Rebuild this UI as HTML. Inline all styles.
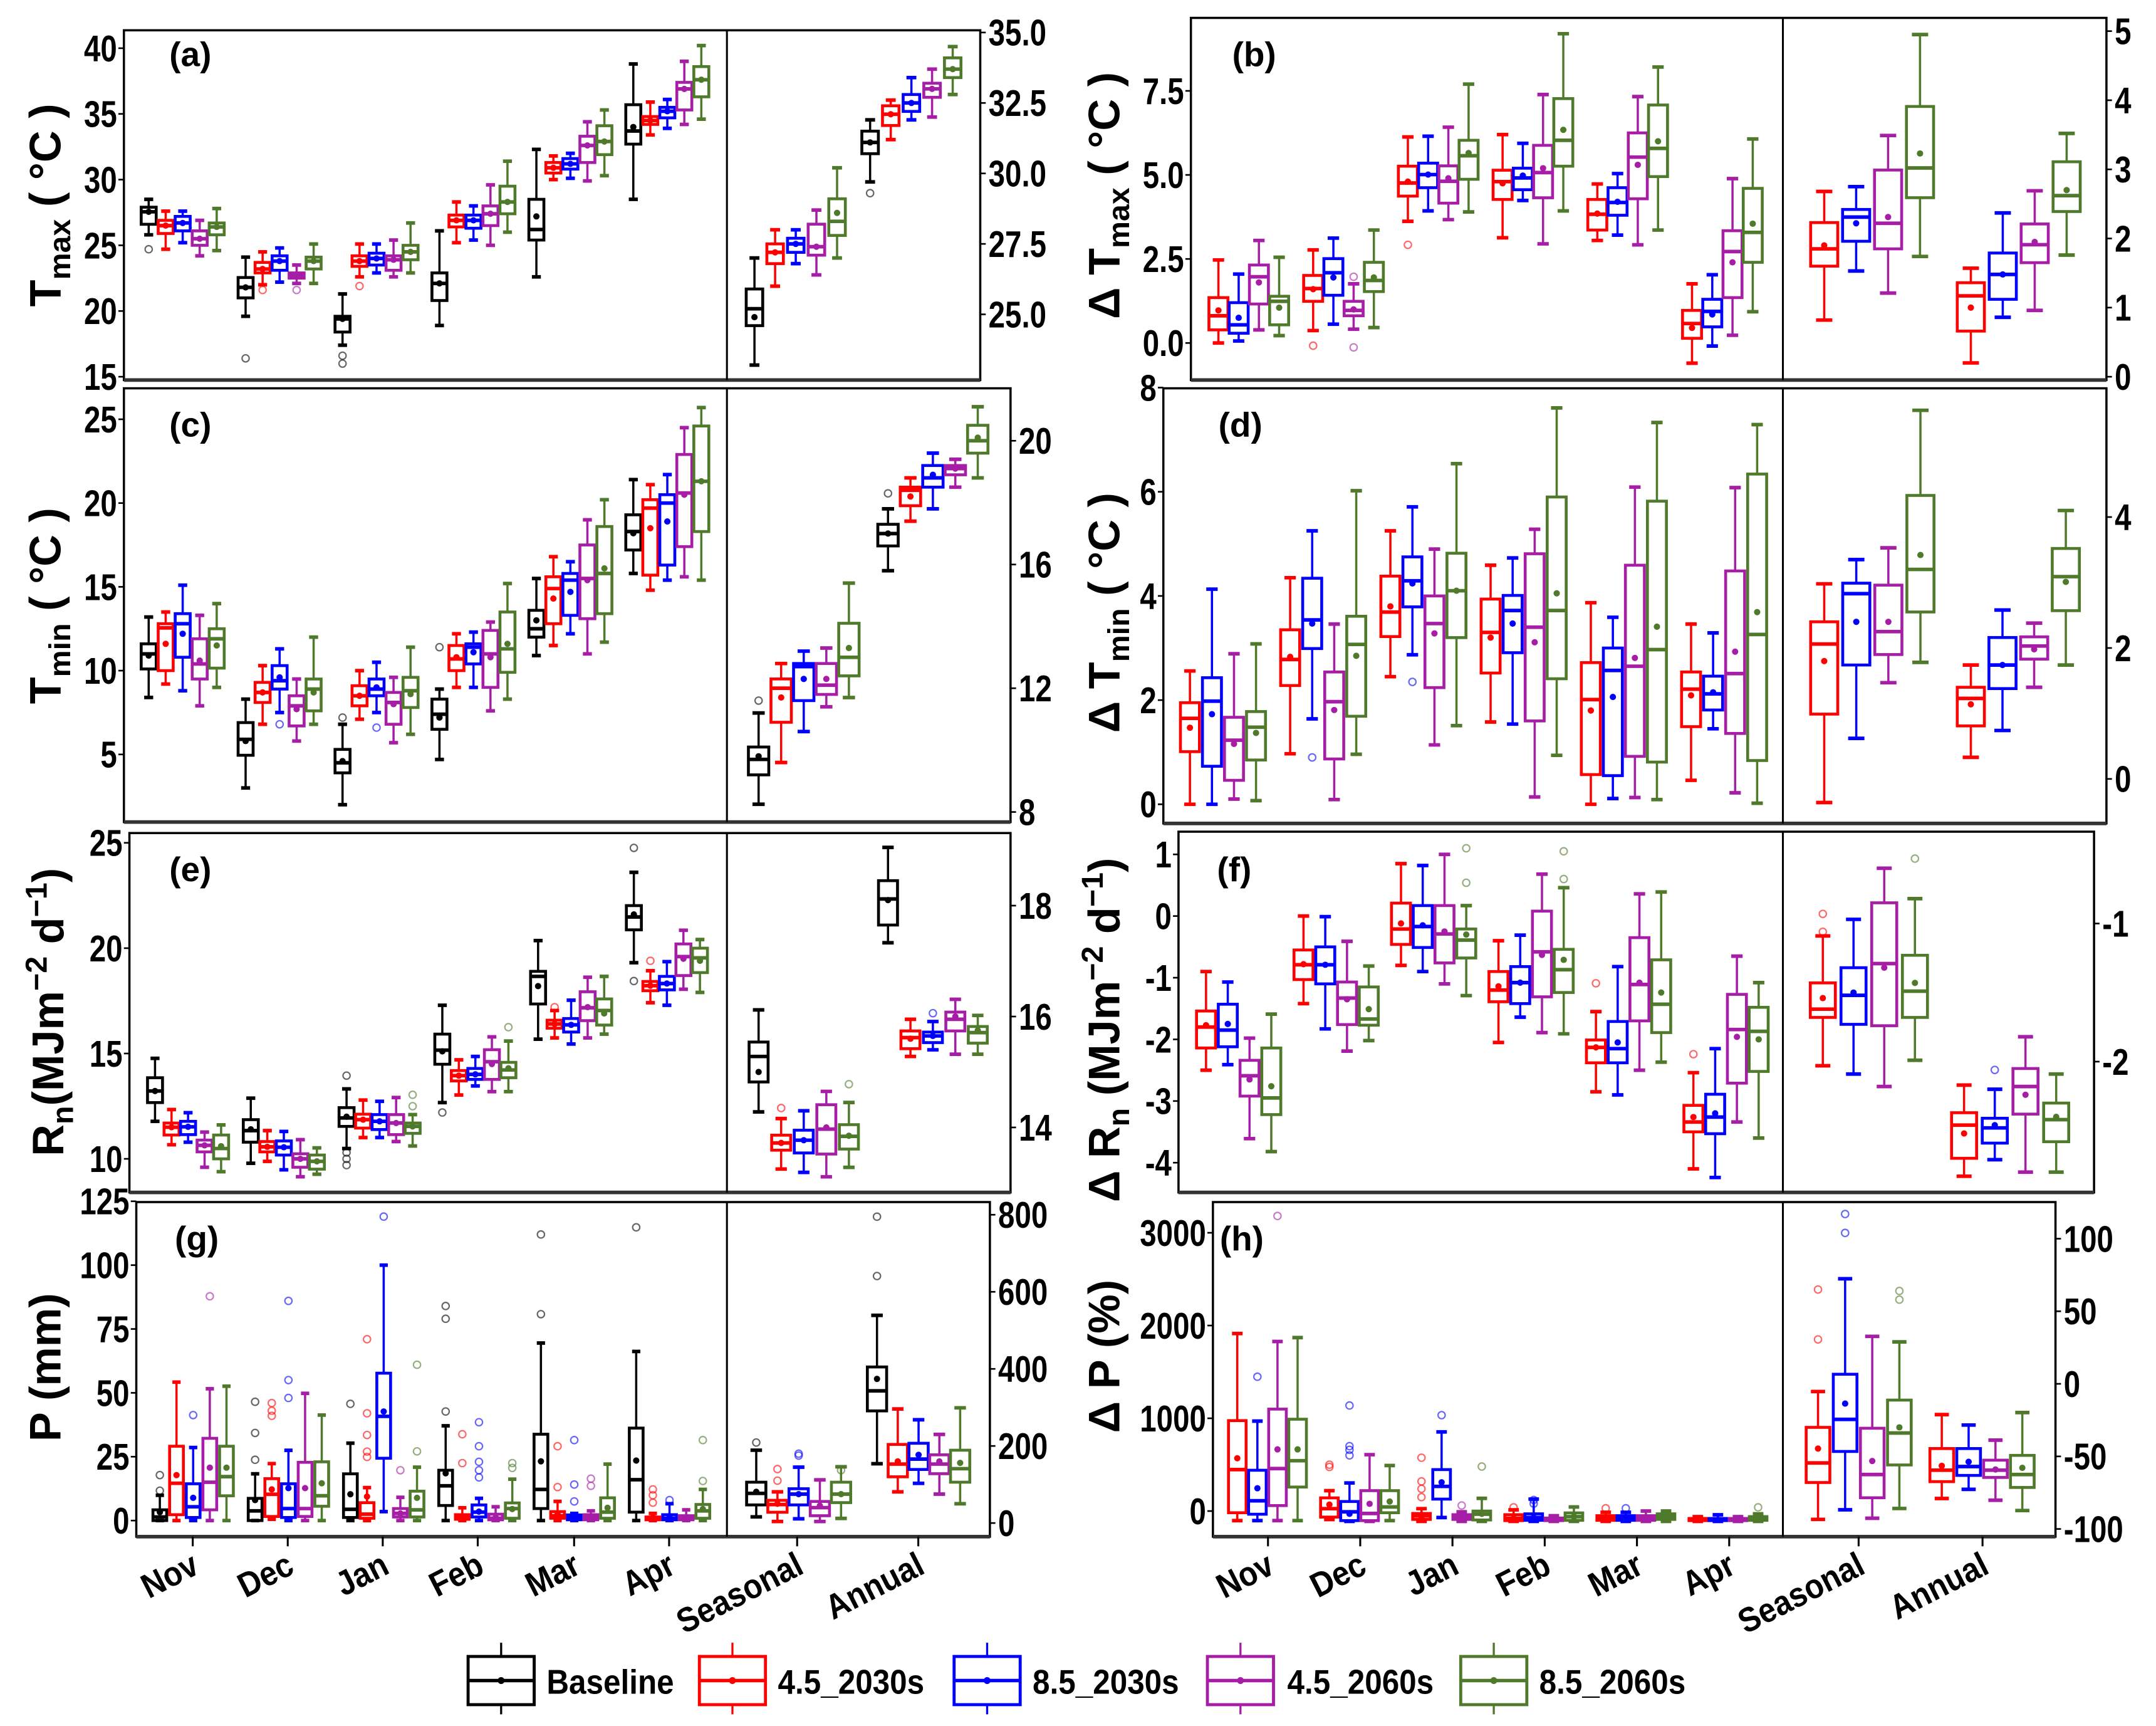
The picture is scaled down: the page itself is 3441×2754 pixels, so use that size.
<!DOCTYPE html>
<html><head><meta charset="utf-8"><title>Climate box plots</title>
<style>
html,body{margin:0;padding:0;background:#fff;}
svg{display:block;font-family:"Liberation Sans",Arial,sans-serif;font-weight:bold;}
</style></head>
<body>
<svg id="chart" xmlns="http://www.w3.org/2000/svg" width="3441" height="2754" viewBox="0 0 1566 1253.5" preserveAspectRatio="none">
<rect x="0" y="0" width="1566" height="1253.5" fill="#fff"/>
<g id="plots"></g>

<!-- axis titles -->
<g font-size="32" fill="#000">
 <text transform="translate(44,149) rotate(-90)" text-anchor="middle">T<tspan font-size="22" dy="7">max</tspan><tspan dy="-7"> ( °C )</tspan></text>
 <text transform="translate(44,440) rotate(-90)" text-anchor="middle">T<tspan font-size="22" dy="7">min</tspan><tspan dy="-7"> ( °C )</tspan></text>
 <text transform="translate(46,735) rotate(-90)" text-anchor="middle">R<tspan font-size="22" dy="7">n</tspan><tspan dy="-7">(MJm</tspan><tspan font-size="22" dy="-12">−2</tspan><tspan dy="12"> d</tspan><tspan font-size="22" dy="-12">−1</tspan><tspan dy="12">)</tspan></text>
 <text transform="translate(44,993) rotate(-90)" text-anchor="middle">P (mm)</text>
 <text transform="translate(813,142) rotate(-90)" text-anchor="middle">Δ T<tspan font-size="22" dy="7">max</tspan><tspan dy="-7"> ( °C )</tspan></text>
 <text transform="translate(813,445) rotate(-90)" text-anchor="middle">Δ T<tspan font-size="22" dy="7">min</tspan><tspan dy="-7"> ( °C )</tspan></text>
 <text transform="translate(813,748) rotate(-90)" text-anchor="middle">Δ R<tspan font-size="22" dy="7">n</tspan><tspan dy="-7"> (MJm</tspan><tspan font-size="22" dy="-12">−2</tspan><tspan dy="12"> d</tspan><tspan font-size="22" dy="-12">−1</tspan><tspan dy="12">)</tspan></text>
 <text transform="translate(813,985) rotate(-90)" text-anchor="middle">Δ P (%)</text>
</g>

<!-- panel labels -->
<g font-size="25" fill="#000">
 <text x="123" y="48">(a)</text>
 <text x="895" y="48">(b)</text>
 <text x="123" y="317">(c)</text>
 <text x="885" y="317">(d)</text>
 <text x="123" y="640">(e)</text>
 <text x="884" y="640">(f)</text>
 <text x="127" y="908">(g)</text>
 <text x="886" y="908">(h)</text>
</g>

<g id="xlabels" font-size="25" fill="#000"></g>

<!-- legend -->
<g id="legend" font-size="25" fill="#000">
 <g stroke="#000">
  <line x1="364" y1="1193" x2="364" y2="1245" stroke-width="1.5"/><rect x="340" y="1203" width="48" height="35" fill="#fff" stroke-width="2.2"/><line x1="340" y1="1220.5" x2="388" y2="1220.5" stroke-width="2.5"/><circle cx="364" cy="1220.5" r="2" fill="#000"/>
  <text transform="translate(397,1230) scale(0.9,1)" stroke="none">Baseline</text></g>
 <g stroke="#ff0000">
  <line x1="532" y1="1193" x2="532" y2="1245" stroke-width="1.5"/><rect x="508" y="1203" width="48" height="35" fill="#fff" stroke-width="2.2"/><line x1="508" y1="1220.5" x2="556" y2="1220.5" stroke-width="2.5"/><circle cx="532" cy="1220.5" r="2" fill="#ff0000"/>
  <text transform="translate(565,1230) scale(0.9,1)" stroke="none" fill="#000">4.5_2030s</text></g>
 <g stroke="#0000ff">
  <line x1="717" y1="1193" x2="717" y2="1245" stroke-width="1.5"/><rect x="693" y="1203" width="48" height="35" fill="#fff" stroke-width="2.2"/><line x1="693" y1="1220.5" x2="741" y2="1220.5" stroke-width="2.5"/><circle cx="717" cy="1220.5" r="2" fill="#0000ff"/>
  <text transform="translate(750,1230) scale(0.9,1)" stroke="none" fill="#000">8.5_2030s</text></g>
 <g stroke="#a61ea6">
  <line x1="901" y1="1193" x2="901" y2="1245" stroke-width="1.5"/><rect x="877" y="1203" width="48" height="35" fill="#fff" stroke-width="2.2"/><line x1="877" y1="1220.5" x2="925" y2="1220.5" stroke-width="2.5"/><circle cx="901" cy="1220.5" r="2" fill="#a61ea6"/>
  <text transform="translate(935,1230) scale(0.9,1)" stroke="none" fill="#000">4.5_2060s</text></g>
 <g stroke="#4f7a2c">
  <line x1="1085" y1="1193" x2="1085" y2="1245" stroke-width="1.5"/><rect x="1061" y="1203" width="48" height="35" fill="#fff" stroke-width="2.2"/><line x1="1061" y1="1220.5" x2="1109" y2="1220.5" stroke-width="2.5"/><circle cx="1085" cy="1220.5" r="2" fill="#4f7a2c"/>
  <text transform="translate(1118,1230) scale(0.9,1)" stroke="none" fill="#000">8.5_2060s</text></g>
</g>
</svg>

<script>
// ---------- categories ----------
const months = ['Nov','Dec','Jan','Feb','Mar','Apr'];
const periods = ['Seasonal','Annual'];
const seriesNames = ['Baseline','4.5_2030s','8.5_2030s','4.5_2060s','8.5_2060s'];

// ---------- data: each box = [upperWhisker, q3, median, q1, lowerWhisker, mean] ----------
// (a) Tmax
const tmaxMonth = [
 [[28.5,27.9,27.55,26.6,25.8],[27.6,26.9,26.5,25.9,24.7],[27.6,27.2,26.7,26.1,25.2],[26.9,26.1,25.5,25,24.2],[27.8,26.7,26.4,25.8,24.6]],
 [[24.1,22.55,21.8,21,19.6],[24.5,23.7,23.2,22.9,22],[24.8,24.2,23.8,23.1,22.2],[23.5,22.9,22.7,22.5,22.1],[25.1,24.1,23.8,23.2,22.1]],
 [[21.3,19.6,19.4,18.4,17.4],[25.1,24.2,23.8,23.4,22.6],[25.1,24.4,24,23.5,22.9],[25.4,24.2,23.9,23.1,22.6],[26.7,25,24.5,23.9,22.9]],
 [[26.1,22.9,22.1,20.8,18.9],[28.3,27.3,26.9,26.4,25.2],[28,27.3,26.9,26.3,25.4],[29.6,28,27.4,26.5,25],[31.4,29.5,28.3,27.4,26]],
 [[32.3,28.5,26.2,25.4,22.6,27.2],[31.8,31.3,30.9,30.5,30],[32,31.6,31.2,30.8,30.1],[34.4,33.3,32.6,31.3,29.9],[35.3,34.1,32.9,31.9,30.3]],
 [[38.8,35.7,33.7,32.7,28.5,34],[35.9,34.8,34.5,34.2,33.4],[36.1,35.5,35.2,34.7,33.9],[39,37.4,36.9,35.3,34.2],[40.2,38.6,37.6,36.3,34.6]]];
const tmaxSeason = [[27,25.9,25.2,24.6,23.2,24.9],[28,27.5,27.2,26.8,26],[28,27.7,27.5,27.2,26.8],[28.7,28.2,27.4,27.1,26.4],[30.2,29.1,28.3,27.8,27,28.6]];
const tmaxAnnual = [[31.9,31.5,31.1,30.7,29.7],[32.6,32.4,32.1,31.7,31.2],[33.4,32.8,32.5,32.2,31.9],[33.7,33.2,33,32.7,32],[34.5,34.1,33.7,33.4,32.8]];
const tmaxOutliers = [[0,0,24.7],[1,0,16.4],[1,1,21.6],[1,3,21.6],[2,0,16.6],[2,0,16],[2,1,21.9]];
const tmaxPeriodOutliers = [[1,0,29.3]];
const tmaxLeftTicks = [15,20,25,30,35,40];
const tmaxRightTicks = [25,27.5,30,32.5,35];

// (b) dTmax
const dtmaxMonth = [
 [[2.47,1.35,0.81,0.39,0,0.97],[2.05,1.2,0.54,0.29,0.06,0.75],[3.05,2.32,1.97,1.16,0.39,1.8],[2.55,1.39,1.24,0.54,0.22,1.05]],
 [[2.77,2.01,1.62,1.24,0.37,1.6],[3.12,2.51,2.09,1.42,0.56,1.95],[1.76,1.24,0.97,0.81,0.41,1.0],[3.36,2.4,1.86,1.53,0.46,1.95]],
 [[6.13,5.26,4.76,4.37,3.62,4.8],[6.15,5.35,5.01,4.62,3.93],[6.42,5.27,4.81,4.16,3.67,4.9],[7.7,6.03,5.57,4.87,3.9,5.65]],
 [[6.2,5.14,4.8,4.27,3.13,4.75],[5.94,5.2,4.91,4.56,4.24,4.98],[7.39,5.88,5.07,4.32,2.95,5.2],[9.2,7.27,6.03,5.26,3.93,6.34]],
 [[4.73,4.27,3.83,3.36,3.05,3.85],[5.04,4.62,4.18,3.8,3.21,4.2],[7.33,6.25,5.53,4.29,2.92,5.3],[8.21,7.08,5.79,4.95,3.36,6.0]],
 [[1.76,0.97,0.58,0.14,-0.6,0.45],[2.03,1.3,0.94,0.48,-0.09,0.85],[4.89,3.34,2.72,1.35,0.23,2.4],[6.07,4.6,3.29,2.4,0.93,3.55]]];
const dtmaxSeason = [[2.68,2.23,1.85,1.6,0.82,1.9],[2.75,2.42,2.31,1.96,1.53,2.22],[3.49,2.99,2.22,1.85,1.21,2.31],[4.95,3.91,3.02,2.59,1.74,3.23]];
const dtmaxAnnual = [[1.57,1.36,1.17,0.66,0.2,1.0],[2.37,1.79,1.48,1.12,0.86,1.48],[2.69,2.21,1.91,1.65,0.96,1.95],[3.52,3.11,2.62,2.39,1.76,2.7]];
const dtmaxOutliers = [[2,0,2.92],[1,0,-0.08],[1,2,1.97],[1,2,-0.13]];
const dtmaxLeftTicks = [0,2.5,5,7.5];
const dtmaxRightTicks = [0,1,2,3,4,5];

// (c) Tmin
const tminMonth = [
 [[13.2,11.6,11,10.1,8.4,10.9],[13.5,12.8,12.55,10,9.2,11.6],[15.1,13.4,12.8,10.8,8.8,12.2],[13.3,11.9,10.4,9.5,7.9,10.6],[14,12.5,11.9,10.15,9,11.5]],
 [[8.3,6.9,5.9,4.95,3,5.8],[10.3,9.3,8.7,8.1,6.8],[11.3,10.3,9.4,8.9,7.5,9.6],[9.5,8.5,7.9,6.7,5.8,7.7],[12,9.5,8.9,7.6,6.8,8.7]],
 [[6.8,5.3,4.5,3.9,2,4.6],[10,9.1,8.5,7.9,7.1],[10.5,9.5,8.9,8.5,7.5,9],[9.6,8.7,8.1,6.8,5.7,8],[11.4,9.6,8.8,7.8,6.2,8.6]],
 [[8.9,8.3,7.4,6.5,4.7,7.2],[12.2,11.5,10.7,10,9,10.8],[12.3,11.6,11.4,10.4,9,11.1],[12.9,12.4,11,9,7.6,10.8],[15.2,13.5,11.3,9.9,8.3,11.6]],
 [[15.5,13.6,12.5,12,10.9,13],[16.8,15.6,14.9,12.8,11.5,14.3],[16.5,15.8,15.4,13.3,12.2,14.7],[19,17.5,15.5,13.1,11,15.4],[20.2,18.6,15.8,13.4,11.7,16.1]],
 [[21.4,19.3,18.3,17.2,15.8,18.2],[21.1,20.2,19.7,15.7,14.8,18.5],[21.7,20.5,20,16.3,15.4,18.9],[24.5,22.9,20.6,17.4,15.6,20.5],[25.7,24.6,21.3,18.3,15.4,21.3]]];
const tminSeason = [[11.2,10.1,9.7,9.2,8.25,9.8],[12.8,12.3,12,10.9,9.6,11.7],[13.2,12.8,12.7,11.6,10.6,12.3],[13.3,12.8,12.1,11.8,11.4,12.3],[15.4,14.1,13,12.4,11.7,13.3]];
const tminAnnual = [[17.8,17.3,17,16.6,15.8,17],[18.8,18.5,18.4,17.9,17.4,18.2],[19.6,19.2,18.8,18.5,17.8,18.9],[19.4,19.2,19.1,18.9,18.5],[21.1,20.5,20,19.6,18.8,20.1]];
const tminOutliers = [[1,2,6.8],[2,0,7.2],[2,2,6.6],[3,0,11.4]];
const tminPeriodOutliers = [[0,0,11.6],[1,0,18.3]];
const tminLeftTicks = [5,10,15,20,25];
const tminRightTicks = [8,12,16,20];

// (d) dTmin
const dtminMonth = [
 [[2.56,1.95,1.65,1.01,0,1.47],[4.13,2.43,1.98,0.73,0,1.73],[2.89,1.67,1.23,0.46,0.1,1.16],[3.08,1.78,1.48,0.85,0.07,1.37]],
 [[4.35,3.35,2.78,2.28,0.97,2.83],[5.25,4.34,3.54,2.99,1.64,3.47],[3.46,2.54,1.97,0.87,0.09,1.81],[6.02,3.61,3.07,1.69,0.96,2.85]],
 [[5.25,4.38,3.69,3.22,2.45,3.8],[5.71,4.75,4.29,3.79,2.87,4.24],[4.9,4,3.47,2.24,1.14,3.28],[6.54,4.82,4.1,3.2,1.51,4.1]],
 [[4.59,3.94,3.3,2.52,1.58,3.2],[4.73,4.01,3.72,2.91,1.54,3.47],[5.28,4.81,3.4,1.6,0.14,3.11],[7.61,5.9,3.72,2.41,0.94,4.05]],
 [[3.87,2.72,2.01,0.57,0,1.8],[3.59,3,2.57,0.55,0.11,2.06],[6.09,4.59,2.65,0.92,0.13,2.81],[7.33,5.82,2.97,0.81,0.09,3.41]],
 [[3.46,2.54,2.21,1.49,0.46,2.09],[3.29,2.46,2.12,1.81,1.45,2.15],[6.08,4.48,2.51,1.36,0.22,2.93],[7.29,6.34,3.26,0.84,0.02,3.69]]];
const dtminSeason = [[2.98,2.4,2.06,0.99,-0.36,1.8],[3.35,2.99,2.83,1.74,0.62,2.4],[3.53,2.96,2.25,1.9,1.47,2.4],[5.63,4.33,3.2,2.55,1.78,3.42]];
const dtminAnnual = [[1.74,1.4,1.23,0.81,0.33,1.14],[2.58,2.16,1.74,1.38,0.74,1.74],[2.38,2.17,2.03,1.83,1.4,1.98],[4.1,3.52,3.09,2.57,1.74,3.01]];
const dtminOutliers = [[1,1,0.9],[2,1,2.35]];
const dtminLeftTicks = [0,2,4,6,8];
const dtminRightTicks = [0,2,4];

// (e) Rn
const rnMonth = [
 [[14.77,13.85,13.22,12.67,11.78],[12.34,11.7,11.5,11.13,10.67],[12.19,11.78,11.52,11.15,10.79],[11.27,10.89,10.64,10.33,9.6],[11.61,11.13,10.49,10,9.39,10.6]],
 [[12.88,11.86,11.34,10.79,9.79,11.4],[11.34,10.82,10.57,10.33,9.88],[11.3,10.85,10.55,10.18,9.48],[10.91,10.24,10,9.6,9.15],[10.52,10.18,9.88,9.51,9.27]],
 [[13.32,12.43,11.94,11.54,10.49,12],[12.79,12.12,11.86,11.46,11.01],[12.73,12.1,11.78,11.39,11.01],[12.91,12.1,11.7,11.15,10.82],[12.1,11.7,11.54,11.21,10.61]],
 [[17.29,15.92,15.16,14.49,12.67,15.1],[14.7,14.19,13.95,13.7,13.03],[14.86,14.29,14.01,13.77,13.46],[15.79,15.18,14.61,13.77,13.19,14.5],[15.59,14.58,14.22,13.85,13.19,14.3]],
 [[20.36,18.9,18.66,17.35,15.68,18.2],[17.04,16.58,16.4,16.2,15.74],[17.53,16.66,16.36,16.02,15.45],[18.62,17.93,17.17,16.56,15.74,17.2],[18.66,17.59,17.04,16.35,15.92,16.9]],
 [[23.6,22.02,21.48,20.87,19.31,21.6],[18.93,18.42,18.22,17.98,17.41],[19.36,18.66,18.32,18.02,17.29],[20.85,20.2,19.6,18.7,18.05,19.5],[20.41,20,19.54,18.84,17.9,19.4]]];
const rnSeason = [[16.12,15.54,15.28,14.82,14.28,15.0],[14.16,13.86,13.72,13.59,13.25],[14.3,13.95,13.77,13.54,13.19],[14.65,14.41,13.97,13.52,13.11,14.0],[14.45,14.05,13.84,13.61,13.28,13.85]];
const rnAnnual = [[19.05,18.45,18.12,17.65,17.33,18.1],[15.95,15.74,15.62,15.42,15.28,15.6],[15.91,15.72,15.65,15.53,15.4],[16.31,16.08,15.95,15.74,15.32,16.0],[16.02,15.82,15.71,15.52,15.32,15.75]];
const rnOutliers = [[2,0,13.95],[2,0,10.3],[2,0,10],[2,0,9.7],[2,4,13.04],[2,4,12.5],[3,0,12.2],[3,4,16.25],[4,1,17.2],[5,0,24.76],[5,0,18.44],[5,1,19.4]];
const rnPeriodOutliers = [[0,1,14.35],[0,4,14.78],[1,2,16.06]];
const rnLeftTicks = [10,15,20,25];
const rnRightTicks = [14,16,18];

// (f) dRn
const drnMonth = [
 [[-0.9,-1.54,-1.8,-2.14,-2.5,-1.77],[-1.07,-1.43,-1.85,-2.12,-2.41,-1.75],[-1.98,-2.34,-2.59,-2.92,-3.61,-2.65],[-1.59,-2.14,-2.95,-3.22,-3.82,-2.76]],
 [[0,-0.55,-0.79,-1.03,-1.42,-0.78],[-0.01,-0.5,-0.79,-1.1,-1.83,-0.79],[-0.41,-1.07,-1.33,-1.76,-2.19,-1.35],[-0.81,-1.15,-1.67,-1.77,-2.02,-1.51]],
 [[0.85,0.21,-0.21,-0.46,-0.8,-0.12],[0.82,0.17,-0.17,-0.51,-0.9,-0.15],[1,0.17,-0.29,-0.76,-1.1,-0.25],[0.17,-0.21,-0.39,-0.68,-1.29,-0.3]],
 [[-0.4,-0.9,-1.2,-1.39,-2.05,-1.14],[-0.31,-0.82,-1.08,-1.42,-1.64,-1.08],[0.68,0.08,-0.58,-1.31,-1.89,-0.63],[0.46,-0.54,-0.87,-1.24,-1.91,-0.71]],
 [[-1.55,-2.01,-2.13,-2.38,-2.85,-2.13],[-0.82,-1.71,-2.15,-2.38,-2.9,-2.05],[0.36,-0.35,-1.11,-1.7,-2.5,-1.08],[0.39,-0.71,-1.43,-1.89,-2.37,-1.24]],
 [[-2.54,-3.07,-3.34,-3.5,-4.1,-3.26],[-2.15,-2.89,-3.26,-3.53,-4.24,-3.2],[-0.65,-1.27,-1.84,-2.71,-3.34,-1.96],[-1.08,-1.48,-1.87,-2.52,-3.6,-2.0]]];
const drnSeason = [[-1.09,-1.43,-1.62,-1.68,-2.03,-1.54],[-0.97,-1.32,-1.52,-1.73,-2.09,-1.5],[-0.6,-0.85,-1.29,-1.74,-2.18,-1.32],[-0.82,-1.23,-1.49,-1.68,-1.99,-1.43]];
const drnAnnual = [[-2.17,-2.37,-2.46,-2.7,-2.83,-2.52],[-2.2,-2.41,-2.48,-2.59,-2.71,-2.46],[-1.82,-2.05,-2.18,-2.38,-2.8,-2.24],[-2.09,-2.3,-2.42,-2.58,-2.8,-2.4]];
const drnOutliers = [[2,3,0.54],[2,3,1.1],[3,3,0.6],[3,3,1.05],[4,0,-1.09],[5,0,-2.24]];
const drnPeriodOutliers = [[0,0,-0.93],[0,0,-1.06],[0,3,-0.53],[1,1,-2.06]];
const drnLeftTicks = [-4,-3,-2,-1,0,1];
const drnRightTicks = [-2,-1];

// (g) P
const pMonth = [
 [[9.9,4.2,1.4,0,0,3.3],[54.2,29.1,14.6,2.3,0,17.8],[28.6,14.4,5.4,1.2,0,8.9],[51.6,32.2,15,4.2,0,20.7],[52.6,29.1,17.2,9.7,0,20.7]],
 [[18.3,8.7,3.8,0,0,8],[22.3,16.4,10.3,1.6,0.5,12.2],[27.5,14.4,4.7,1.2,0,12.7],[49.8,22.8,4.7,1.6,0,12.7],[41.3,23,9.7,5.6,0,14.6]],
 [[30.3,18.3,4.4,1.2,0,10.3],[12.9,7,2.5,0.9,0,9.4],[100,57.7,40.8,24.4,3.5,42.7],[9.1,4.7,2.8,1.4,0,2.8],[20.9,11.5,4.2,1.4,0,8.9]],
 [[37.1,19.7,13.6,5.9,0,18.5],[5,2.3,1.2,0.5,0,1.5],[8.7,6.1,3.3,1.4,0,3.5],[5.4,2.5,0.9,0.3,0,1.2],[16.2,6.9,4.7,0.9,0,4.5]],
 [[69.5,33.8,12.2,4.7,0,23.2],[7.5,3.5,1.9,0.9,0,2.5],[2.8,2.2,1.2,0.3,0,1.5],[3.8,2.3,1.2,0.3,0,1.5],[22.1,8.9,3.3,0.9,0,5]],
 [[66.2,36.2,16,3.3,0,23.5],[2.8,1.4,0.9,0.3,0,1.2],[6.6,2.3,0.9,0.3,0,1.2],[4.2,1.9,0.9,0.3,0,1.0],[12.2,6.3,3.8,0.9,0,4.5]]];
const pSeason = [[189,106,77,47,16,81],[81,59,48,28,4,50],[145,89,75,47,11,75],[112,56,40,19,4,45],[146,106,75,53,12,75]];
const pAnnual = [[539,405,343,291,154,374],[296,204,153,120,81,160],[268,207,166,139,103,177],[230,177,153,128,75,160],[299,189,141,106,50,156]];
const pOutliers = [[0,0,17.8],[0,0,11.7],[0,2,41.3],[0,3,87.8],[1,0,46.5],[1,0,34.3],[1,0,23.8],[1,1,46],[1,1,43],[1,1,41],[1,2,86],[1,2,55],[1,2,48],[2,0,45.7],[2,1,71],[2,1,42],[2,1,33.5],[2,1,27],[2,1,24.9],[2,2,119],[2,3,19.7],[2,4,61],[2,4,27.1],[3,0,84],[3,0,79],[3,0,42.7],[3,1,33.8],[3,1,22.5],[3,2,38.5],[3,2,29.1],[3,2,23],[3,2,19.7],[3,2,16.9],[3,4,22.5],[3,4,20.6],[4,0,112],[4,0,80.8],[4,1,29.1],[4,1,13.1],[4,2,31.5],[4,2,14.1],[4,2,7.5],[4,3,16.4],[4,3,13.6],[5,0,114.8],[5,1,12.2],[5,1,9.9],[5,1,7],[5,2,8],[5,4,31.5],[5,4,15.5]];
const pPeriodOutliers = [[0,0,209],[0,1,140],[0,1,110],[0,2,180],[0,2,175],[0,4,137],[1,0,795],[1,0,641]];
const pLeftTicks = [0,25,50,75,100,125];
const pRightTicks = [0,200,400,600,800];

// (h) dP
const dpMonth = [
 [[1914,975,447,-18,-103,569],[970,440,111,-34,-103,246],[1828,1099,458,59,-103,665],[1870,990,543,259,-103,665]],
 [[220,142,26,-65,-91,70],[303,103,-8,-103,-111,-30],[608,220,-26,-103,-111,78],[491,220,44,-18,-103,103]],
 [[26,-26,-52,-90,-111,-60],[853,447,266,129,-70,310],[-8,-39,-65,-90,-111,-65],[137,0,-34,-96,-111,-30]],
 [[13,-39,-78,-103,-111],[129,-30,-70,-100,-111],[-50,-75,-90,-103,-111],[44,-20,-60,-100,-111]],
 [[-13,-50,-75,-100,-111],[-13,-50,-80,-100,-111],[0,-50,-75,-100,-111],[0,-30,-60,-90,-111]],
 [[-60,-80,-95,-103,-111],[-40,-80,-95,-103,-111],[-60,-80,-95,-103,-111],[-30,-60,-80,-100,-111]]];
const dpSeason = [[-5.3,-30,-54.5,-68,-93.4,-44.6],[72.4,6.6,-24.5,-46.6,-86.8,-13.6],[32.7,-30.6,-62.5,-78.5,-92.6,-53.2],[28.9,-11.2,-33.9,-55.9,-85.9,-30]];
const dpAnnual = [[-21.2,-44.6,-59.5,-67.4,-79,-56.5],[-28.4,-44.6,-57,-63.1,-72.7,-53.7],[-38.8,-52.6,-59.5,-64.5,-80.2,-59],[-19.8,-49.3,-62.5,-71.4,-87.3,-57.9]];
const dpOutliers = [[0,1,1448],[0,2,3181],[1,0,500],[1,0,475],[1,1,1138],[1,1,700],[1,1,660],[1,1,600],[2,0,575],[2,0,320],[2,0,240],[2,0,150],[2,1,1034],[2,2,60],[2,3,480],[3,0,40],[3,1,120],[3,1,80],[4,0,30],[4,1,30],[5,3,40]];
const dpPeriodOutliers = [[0,0,65],[0,0,30.6],[0,1,117],[0,1,104],[0,3,64],[0,3,58]];
const dpLeftTicks = [0,1000,2000,3000];
const dpRightTicks = [-100,-50,0,50,100];

// ---------- layout (pixel geometry, not data) ----------
const COLORS = ['#000000','#ff0000','#0000ff','#a61ea6','#4f7a2c'];
const panels = [
 {id:'a',name:'tmax',L:90,S:528,R:712,T:22,B:276,yL:[40,35,15,273.6],yR:[35,23.6,25,228.3],fL:0,fR:1,
  m:{x0:108,step:12.35,grp:70.4,w:10.9},s:{x0:548,step:15,w:12},a:{x0:632,step:15,w:12},c0:0,
  month:tmaxMonth,season:tmaxSeason,annual:tmaxAnnual,out:tmaxOutliers,pout:tmaxPeriodOutliers,tl:tmaxLeftTicks,tr:tmaxRightTicks},
 {id:'b',name:'delta-tmax',L:865,S:1295,R:1530,T:13,B:276,yL:[7.5,66,0,249.1],yR:[5,22.6,0,273.6],fL:1,fR:0,
  m:{x0:885,step:14.7,grp:68.8,w:13.8},s:{x0:1325,step:23.2,w:19.7},a:{x0:1431.5,step:23.2,w:19.7},c0:1,
  month:dtmaxMonth,season:dtmaxSeason,annual:dtmaxAnnual,out:dtmaxOutliers,pout:[],tl:dtmaxLeftTicks,tr:dtmaxRightTicks},
 {id:'c',name:'tmin',L:90,S:528,R:734,T:282,B:597,yL:[25,304.5,5,547.9],yR:[20,320.1,8,589.7],fL:0,fR:0,
  m:{x0:108,step:12.35,grp:70.4,w:10.9},s:{x0:551,step:16.4,w:14.8},a:{x0:645,step:16.3,w:14.8},c0:0,
  month:tminMonth,season:tminSeason,annual:tminAnnual,out:tminOutliers,pout:tminPeriodOutliers,tl:tminLeftTicks,tr:tminRightTicks},
 {id:'d',name:'delta-tmin',L:845,S:1295,R:1530,T:282,B:598,yL:[8,281.5,0,584.1],yR:[4,375.5,2,470.6],fL:0,fR:0,
  m:{x0:864.3,step:16,grp:72.8,w:13.8},s:{x0:1325,step:23.3,w:19.7},a:{x0:1431.5,step:23,w:19.7},c0:1,
  month:dtminMonth,season:dtminSeason,annual:dtminAnnual,out:dtminOutliers,pout:[],tl:dtminLeftTicks,tr:dtminRightTicks},
 {id:'e',name:'rn',L:94,S:528,R:734,T:605,B:866,yL:[25,612.1,10,841.6],yR:[18,657.7,14,818.8],fL:0,fR:0,
  m:{x0:112.6,step:12,grp:69.56,w:10.9},s:{x0:551,step:16.4,w:13.8},a:{x0:645,step:16.3,w:13.8},c0:0,
  month:rnMonth,season:rnSeason,annual:rnAnnual,out:rnOutliers,pout:rnPeriodOutliers,tl:rnLeftTicks,tr:rnRightTicks},
 {id:'f',name:'delta-rn',L:856,S:1295,R:1521,T:604,B:866,yL:[1,620.5,-4,844.4],yR:[-1,670.7,-2,771],fL:0,fR:0,
  m:{x0:876,step:15.8,grp:70.8,w:13.8},s:{x0:1324,step:22.3,w:18.2},a:{x0:1426.6,step:22.3,w:18.2},c0:1,
  month:drnMonth,season:drnSeason,annual:drnAnnual,out:drnOutliers,pout:drnPeriodOutliers,tl:drnLeftTicks,tr:drnRightTicks},
 {id:'g',name:'precip',L:99,S:528,R:719,T:873,B:1116,yL:[0,1104.3,100,918.8],yR:[0,1106.1,800,882.2],fL:0,fR:0,
  m:{x0:116.1,step:12.1,grp:69.2,w:10},s:{x0:549.3,step:15.4,w:14},a:{x0:637,step:15.1,w:14},c0:0,
  month:pMonth,season:pSeason,annual:pAnnual,out:pOutliers,pout:pPeriodOutliers,tl:pLeftTicks,tr:pRightTicks},
 {id:'h',name:'delta-precip',L:881,S:1295,R:1493,T:873,B:1116,yL:[0,1097.4,3000,895.3],yR:[100,899.6,-100,1110.4],fL:0,fR:0,
  m:{x0:898.7,step:14.6,grp:66.9,w:12.8},s:{x0:1320.5,step:19.7,w:17.2},a:{x0:1410.4,step:19.5,w:17.2},c0:1,
  month:dpMonth,season:dpSeason,annual:dpAnnual,out:dpOutliers,pout:dpPeriodOutliers,tl:dpLeftTicks,tr:dpRightTicks}
];
const xTicksLeft = [140,209,278,347,417,486,579,667];
const xTicksRight = [921,988,1055,1122,1189,1256,1350,1440];

// ---------- drawing ----------
const NS = 'http://www.w3.org/2000/svg';
function mk(tag, attrs, parent){
  const el = document.createElementNS(NS, tag);
  for (const k in attrs) el.setAttribute(k, attrs[k]);
  if (parent) parent.appendChild(el);
  return el;
}
function scale(ax){ const [v1,p1,v2,p2] = ax; return v => p1 + (v - v1) * (p2 - p1) / (v2 - v1); }

function drawBox(parent, x, w, b, color, ys, label){
  const g = mk('g', {stroke: color, fill: 'none'}, parent);
  
  
  const hi = ys(b[0]), q3 = ys(b[1]), md = ys(b[2]), q1 = ys(b[3]), lo = ys(b[4]);
  const mean = ys(b.length > 5 ? b[5] : b[2]);
  mk('line', {x1:x, y1:hi, x2:x, y2:q3, 'stroke-width':1.6}, g);
  mk('line', {x1:x, y1:q1, x2:x, y2:lo, 'stroke-width':1.6}, g);
  mk('line', {x1:x-w*0.3, y1:hi, x2:x+w*0.3, y2:hi, 'stroke-width':2.6}, g);
  mk('line', {x1:x-w*0.3, y1:lo, x2:x+w*0.3, y2:lo, 'stroke-width':2.6}, g);
  mk('rect', {x:x-w/2, y:Math.min(q3,q1), width:w, height:Math.max(0.8,Math.abs(q1-q3)), 'stroke-width':2.1}, g);
  mk('line', {x1:x-w/2, y1:md, x2:x+w/2, y2:md, 'stroke-width':2.6}, g);
  mk('circle', {cx:x, cy:mean, r:2.3, fill:color, stroke:'none'}, g);
}
function drawOut(parent, x, v, color, ys){
  const c = mk('circle', {cx:x, cy:ys(v), r:2.6, fill:'none', stroke:color, 'stroke-width':1, opacity:0.6}, parent);
  
  
}

const root = document.getElementById('plots');
panels.forEach(p => {
  const g = mk('g', {}, root);
  
  
  const yl = scale(p.yL), yr = scale(p.yR);
  const fr = mk('rect', {x:p.L, y:p.T, width:p.R-p.L, height:p.B-p.T, fill:'none', stroke:'#000', 'stroke-width':1.6}, g);
  
  
  const bl = mk('line', {x1:p.L, y1:p.B, x2:p.R, y2:p.B, stroke:'#333', 'stroke-width':2.6}, g);
  
  
  const sep = mk('line', {x1:p.S, y1:p.T, x2:p.S, y2:p.B, stroke:'#000', 'stroke-width':1.4}, g);
  
  
  const axl = mk('g', {'font-size':27, fill:'#000'}, g);
  
  
  p.tl.forEach(v => {
    const y = yl(v);
    mk('line', {x1:p.L-4, y1:y, x2:p.L, y2:y, stroke:'#000', 'stroke-width':1.2}, axl);
    const t = mk('text', {x:0, y:0, 'text-anchor':'end', transform:'translate(' + (p.L-5) + ',' + (y+9.5) + ') scale(0.8,1)'}, axl);
    t.textContent = v.toFixed(p.fL);
    
    
  });
  const axr = mk('g', {'font-size':27, fill:'#000'}, g);
  
  
  p.tr.forEach(v => {
    const y = yr(v);
    mk('line', {x1:p.R, y1:y, x2:p.R+4, y2:y, stroke:'#000', 'stroke-width':1.2}, axr);
    const t = mk('text', {x:0, y:0, 'text-anchor':'start', transform:'translate(' + (p.R+6) + ',' + (y+9.5) + ') scale(0.8,1)'}, axr);
    t.textContent = v.toFixed(p.fR);
    
    
  });
  p.month.forEach((grp, i) => {
    grp.forEach((b, j) => {
      const x = p.m.x0 + p.m.grp*i + p.m.step*j;
      drawBox(g, x, p.m.w, b, COLORS[j + p.c0], yl, 'box-' + months[i].toLowerCase() + '-' + seriesNames[j + p.c0].replace(/[._]/g,'-').toLowerCase());
    });
  });
  p.out.forEach(o => {
    const x = p.m.x0 + p.m.grp*o[0] + p.m.step*o[1];
    drawOut(g, x, o[2], COLORS[o[1] + p.c0], yl);
  });
  [p.season, p.annual].forEach((arr, k) => {
    const cfg = k === 0 ? p.s : p.a;
    arr.forEach((b, j) => {
      drawBox(g, cfg.x0 + cfg.step*j, cfg.w, b, COLORS[j + p.c0], yr, 'box-' + periods[k].toLowerCase() + '-' + seriesNames[j + p.c0].replace(/[._]/g,'-').toLowerCase());
    });
  });
  p.pout.forEach(o => {
    const cfg = o[0] === 0 ? p.s : p.a;
    drawOut(g, cfg.x0 + cfg.step*o[1], o[2], COLORS[o[1] + p.c0], yr);
  });
  if (p.id === 'g' || p.id === 'h') {
    const xs = p.id === 'g' ? xTicksLeft : xTicksRight;
    xs.forEach(x => {
      const tk = mk('line', {x1:x, y1:p.B, x2:x, y2:p.B+7, stroke:'#000', 'stroke-width':1.4}, g);
      
      
    });
  }
});

const xl = document.getElementById('xlabels');
const cats = months.concat(periods);
[xTicksLeft, xTicksRight].forEach(xs => {
  xs.forEach((x, i) => {
    const t = mk('text', {'text-anchor':'end', transform:'translate(' + (x+6) + ',1142) rotate(-27) scale(0.9,1)'}, xl);
    t.textContent = cats[i];
    
    
  });
});
</script>
</body></html>
